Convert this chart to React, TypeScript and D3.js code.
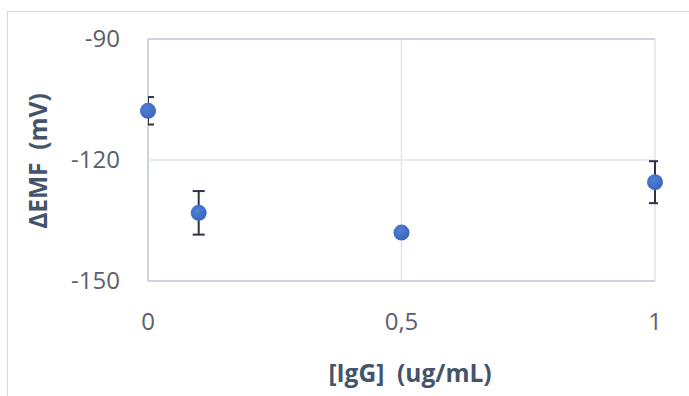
import React from 'react';
import * as d3 from 'd3';

// concentration (ug/mL), ΔEMF (mV) and its error
const conc = [0, 0.1, 0.5, 1];
const emf = [-107.8, -133.1, -138.0, -125.5];
const err = [3.4, 5.4, 0, 5.2];
const yTicks = [-90, -120, -150];
const xTicks = [0, 0.5, 1];

const W = 689;
const H = 396;
const margin = { top: 39, right: 34, bottom: 115, left: 148 };
const font = '"Open Sans", "Noto Sans", sans-serif';

const App = () => {
  const iw = W - margin.left - margin.right;
  const ih = H - margin.top - margin.bottom;

  const x = d3.scaleLinear().domain([0, 1]).range([0, iw]);
  const y = d3.scaleLinear().domain([-150, -90]).range([ih, 0]);

  const tickCol = '#5a606d';
  const titleCol = '#44546a';
  const gridCol = '#dfe3ea';
  const axisCol = '#bdc6d6';

  return (
    <svg width={W} height={H} style={{ position: 'absolute', left: 0, top: 0 }}>
      <defs>
        <clipPath id="plotClip">
          <rect x={0} y={-10} width={iw + 3} height={ih + 20} />
        </clipPath>
        <radialGradient id="dot" cx="40%" cy="35%" r="70%">
          <stop offset="0%" stopColor="#4f7fd6" />
          <stop offset="100%" stopColor="#3a66bb" />
        </radialGradient>
      </defs>
      <rect x={0} y={0} width={W} height={H} fill="#fff" />
      <line x1={7.5} x2={7.5} y1={11} y2={H} stroke="#d9d9d9" />
      <line x1={7} x2={W} y1={11.5} y2={11.5} stroke="#d9d9d9" />

      <g transform={`translate(${margin.left},${margin.top})`}>
        {xTicks.map((t) => (
          <line key={'gx' + t} x1={x(t)} x2={x(t)} y1={0} y2={ih}
            stroke={t === 0 ? axisCol : gridCol} strokeWidth={1.5} />
        ))}
        {yTicks.map((t) => (
          <text key={'ty' + t} x={-28} y={y(t)} dy="0.35em" textAnchor="end"
            fontFamily={font} fontSize={24} fill={tickCol}>
            {t}
          </text>
        ))}
        {yTicks.map((t) => (
          <line key={'gy' + t} x1={0} x2={iw} y1={y(t)} y2={y(t)}
            stroke={t === -120 ? gridCol : axisCol} strokeWidth={1.5} />
        ))}
        {xTicks.map((t) => (
          <text key={'tx' + t} x={x(t)} y={ih + 41} dy="0.35em" textAnchor="middle"
            fontFamily={font} fontSize={24} fill={tickCol}>
            {d3.format('~g')(t).replace('.', ',')}
          </text>
        ))}

        <g clipPath="url(#plotClip)">
          {conc.map((c, i) =>
            err[i] > 0 ? (
              <g key={'e' + i} stroke="#2b3445" strokeWidth={2}>
                <line x1={x(c)} x2={x(c)} y1={y(emf[i] + err[i])} y2={y(emf[i] - err[i])} />
                <line x1={x(c) - 6} x2={x(c) + 6} y1={y(emf[i] + err[i])} y2={y(emf[i] + err[i])} />
                <line x1={x(c) - 6} x2={x(c) + 6} y1={y(emf[i] - err[i])} y2={y(emf[i] - err[i])} />
              </g>
            ) : null
          )}
        </g>
        {conc.map((c, i) => (
          <circle key={'p' + i} cx={x(c)} cy={y(emf[i])} r={8} fill="url(#dot)" />
        ))}
      </g>

      <text x={410} y={373} dy="0.35em" textAnchor="middle" fontFamily={font}
        fontWeight="bold" fontSize={24.5} fill={titleCol} style={{ whiteSpace: 'pre' }}>
        {'[IgG]  (ug/mL)'}
      </text>
      <text transform="translate(38,161) rotate(-90)" dy="0.35em" textAnchor="middle"
        fontFamily={font} fontWeight="bold" fontSize={24.5} fill={titleCol}
        style={{ whiteSpace: 'pre' }}>
        {'ΔEMF  (mV)'}
      </text>
    </svg>
  );
};

export default App;
